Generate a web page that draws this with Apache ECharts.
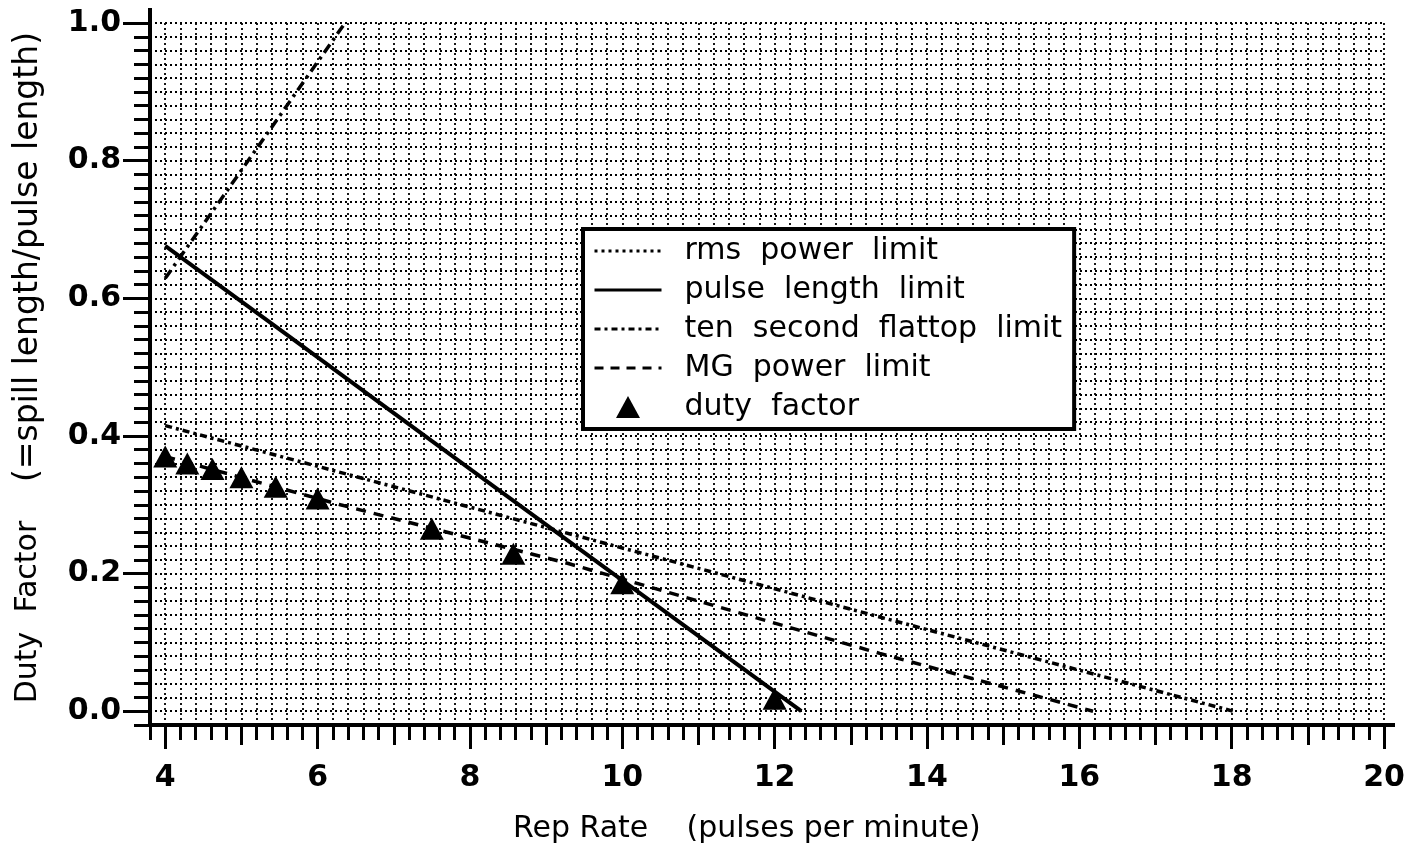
<!DOCTYPE html>
<html><head><meta charset="utf-8">
<script src="https://cdn.jsdelivr.net/npm/echarts@6/dist/echarts.min.js"></script>
<style>html,body{margin:0;padding:0;background:#fff}#c{width:1418px;height:853px}</style>
</head><body><div id="c"></div>
<script>
// ---- data ----
const repRate    = [4, 4.29, 4.62, 5, 5.45, 6, 7.5, 8.57, 10, 12];
const dutyFactor = [0.370, 0.360, 0.352, 0.340, 0.326, 0.309, 0.265, 0.229, 0.186, 0.018];

const rmsX = [4, 5, 6.36];
const rmsY = [0.629, 0.786, 1.0];

const pulseX = [4, 5.51, 8.42, 12.35];
const pulseY = [0.676, 0.554, 0.318, 0.0];

const flattopX = [4, 6.03, 13.38, 18.02];
const flattopY = [0.415, 0.355, 0.137, 0.0];

const mgX = [4, 6.3, 9.28, 13.38, 16.18];
const mgY = [0.370, 0.300, 0.215, 0.084, 0.0];

const xTickLabels = [4, 6, 8, 10, 12, 14, 16, 18, 20];
const xMidTicks   = [5, 7, 9, 11, 13, 15, 17, 19];
const yTickLabels = [0, 0.2, 0.4, 0.6, 0.8, 1.0];

const names = ['rms  power  limit', 'pulse  length  limit', 'ten  second  flattop  limit', 'MG  power  limit', 'duty  factor'];
const xTitle = 'Rep Rate    (pulses per minute)';
const yTitleA = 'Duty  Factor';
const yTitleB = '(=spill length/pulse length)';

// ---- chart ----
const zip = (a, b) => a.map((v, i) => [v, b[i]]);
const FONT = 'DejaVu Sans';
const X_MIN = 3.8, X_MAX = 20, Y_MIN = -0.02, Y_MAX = 1.0;
const tickStyle = {color: '#000', width: 3};
const gridStyle = {color: '#000', width: 1.8, type: [2, 3]};
const hiddenSym = {color: 'rgba(0,0,0,0)', borderWidth: 0, opacity: 0};

function xAx(extra) {
  return Object.assign({
    type: 'value', min: X_MIN, max: X_MAX, interval: 0.2, position: 'bottom',
    axisLine: {show: false, onZero: false},
    axisLabel: {show: false}, splitLine: {show: false}
  }, extra);
}
function yAx(extra) {
  return Object.assign({
    type: 'value', min: Y_MIN, max: Y_MAX, interval: 0.02, position: 'left',
    axisLine: {show: false, onZero: false},
    axisLabel: {show: false}, splitLine: {show: false}
  }, extra);
}

const chart = echarts.init(document.getElementById('c'), null, {renderer: 'canvas'});
const option = {
  backgroundColor: '#fff',
  animation: false,
  grid: {left: 150, right: 34, top: 23, bottom: 128, containLabel: false},
  xAxis: [
    xAx({
      axisLine: {show: true, onZero: false, lineStyle: {color: '#000', width: 4}},
      axisTick: {show: true, length: 15, lineStyle: tickStyle},
      axisLabel: {show: true, customValues: xTickLabels, formatter: v => String(Math.round(v)),
        fontFamily: FONT, fontWeight: 'bold', fontSize: 30, color: '#000', margin: 38},
      splitLine: {show: true, lineStyle: gridStyle}
    }),
    xAx({axisTick: {show: true, length: 20, customValues: xMidTicks, lineStyle: tickStyle}}),
    xAx({axisTick: {show: true, length: 24, customValues: xTickLabels, lineStyle: tickStyle}})
  ],
  yAxis: [
    yAx({
      axisLine: {show: true, onZero: false, lineStyle: {color: '#000', width: 4}},
      axisTick: {show: true, length: 16, lineStyle: tickStyle},
      axisLabel: {show: true, customValues: yTickLabels, formatter: v => v.toFixed(1),
        fontFamily: FONT, fontWeight: 'bold', fontSize: 30, color: '#000', margin: 29},
      splitLine: {show: true, lineStyle: gridStyle}
    }),
    yAx({axisTick: {show: true, length: 27, customValues: yTickLabels, lineStyle: tickStyle}})
  ],
  legend: {
    orient: 'vertical', left: 583, top: 229,
    backgroundColor: '#fff', borderColor: '#000', borderWidth: 4, borderRadius: 0,
    padding: [4, 12, 4, 10], itemWidth: 67, itemHeight: 22, itemGap: 3,
    selectedMode: false, symbolKeepAspect: true,
    textStyle: {fontFamily: FONT, fontSize: 30, color: '#000', lineHeight: 36, padding: [0, 0, 0, 18]},
    data: [
      {name: names[0], itemStyle: hiddenSym, lineStyle: {type: [3, 4], width: 3, color: '#000'}},
      {name: names[1], itemStyle: hiddenSym, lineStyle: {type: 'solid', width: 3, color: '#000'}},
      {name: names[2], itemStyle: hiddenSym, lineStyle: {type: [6, 4, 3, 4], width: 3, color: '#000'}},
      {name: names[3], itemStyle: hiddenSym, lineStyle: {type: [9, 7], width: 3, color: '#000'}},
      {name: names[4], icon: 'path://M12,0 L24,22 L0,22 Z', itemStyle: {color: '#000'}}
    ]
  },
  series: [
    {type: 'line', name: names[0], data: zip(rmsX, rmsY), symbol: 'none', z: 3,
      lineStyle: {color: '#000', width: 3.5, type: [10, 5, 3, 5]}, itemStyle: {color: '#000'}},
    {type: 'line', name: names[1], data: zip(pulseX, pulseY), symbol: 'none', z: 3,
      lineStyle: {color: '#000', width: 4, type: 'solid'}, itemStyle: {color: '#000'}},
    {type: 'line', name: names[2], data: zip(flattopX, flattopY), symbol: 'none', z: 3,
      lineStyle: {color: '#000', width: 3.5, type: [7, 4, 3, 4]}, itemStyle: {color: '#000'}},
    {type: 'line', name: names[3], data: zip(mgX, mgY), symbol: 'none', z: 3,
      lineStyle: {color: '#000', width: 3.5, type: [10, 8]}, itemStyle: {color: '#000'}},
    {type: 'scatter', name: names[4], data: zip(repRate, dutyFactor), symbol: 'triangle',
      symbolSize: [24, 22], z: 5, itemStyle: {color: '#000', opacity: 1}}
  ]
};
chart.setOption(option);

// axis titles and axis-line extensions
const pTopLeft = chart.convertToPixel({gridIndex: 0}, [X_MIN, Y_MAX]);
const pBotRight = chart.convertToPixel({gridIndex: 0}, [X_MAX, Y_MIN]);
chart.setOption({
  graphic: [
    {type: 'line', shape: {x1: pTopLeft[0], y1: pTopLeft[1], x2: pTopLeft[0], y2: pTopLeft[1] - 15},
      style: {stroke: '#000', lineWidth: 4}, silent: true},
    {type: 'line', shape: {x1: pBotRight[0], y1: pBotRight[1], x2: pBotRight[0] + 11, y2: pBotRight[1]},
      style: {stroke: '#000', lineWidth: 4}, silent: true},
    {type: 'text', x: 513, y: 829, silent: true,
      style: {text: xTitle, font: '30px "DejaVu Sans"', fill: '#000', textAlign: 'left', textVerticalAlign: 'middle'}},
    {type: 'text', x: 28, y: 612, rotation: Math.PI / 2, silent: true,
      style: {text: yTitleA, font: '30px "DejaVu Sans"', fill: '#000', textAlign: 'center', textVerticalAlign: 'middle'}},
    {type: 'text', x: 28, y: 257, rotation: Math.PI / 2, silent: true,
      style: {text: yTitleB, font: '33px "DejaVu Sans"', fill: '#000', textAlign: 'center', textVerticalAlign: 'middle'}}
  ]
});
</script>
</body></html>
